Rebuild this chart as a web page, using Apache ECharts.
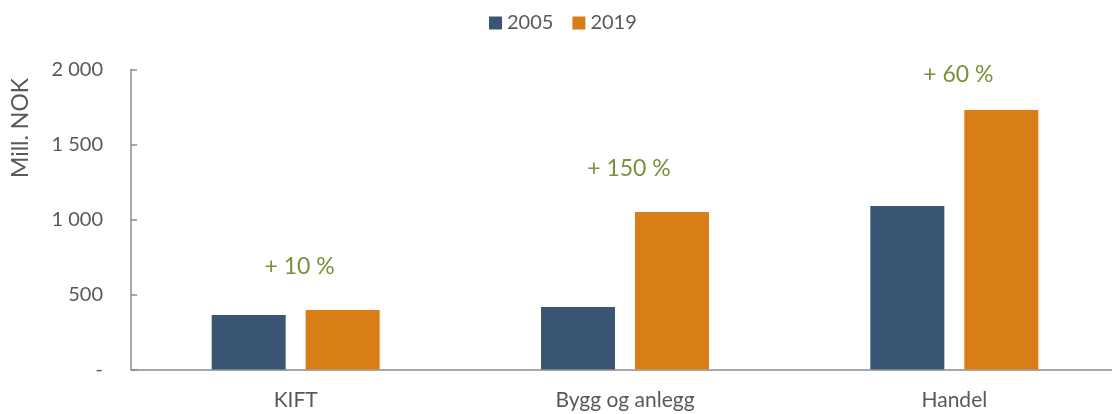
<!DOCTYPE html>
<html>
<head>
<meta charset="utf-8">
<script src="https://cdn.jsdelivr.net/npm/echarts@6/dist/echarts.min.js"></script>
<style>
    html, body { margin: 0; padding: 0; background: #fff; }
    #chart { width: 1112px; height: 414px; }
</style>
</head>
<body>
<div id="chart"></div>
<script>
//数据
const categories = ['KIFT', 'Bygg og anlegg', 'Handel'];
const seriesNames = ['2005', '2019'];
const values2005 = [363, 417, 1090];
const values2019 = [397, 1050, 1730];
const changeLabels = ['+ 10 %', '+ 150 %', '+ 60 %'];
const yTickLabels = ['-', '500', '1 000', '1 500', '2 000'];

const fontFamily = 'Lato';
const textColor = '#595959';
const axisColor = '#8c8c8c';

const chart = echarts.init(document.getElementById('chart'));

const option = {
    animation: false,
    textStyle: { fontFamily: fontFamily },
    legend: {
        data: seriesNames,
        left: 484,
        top: 8,
        icon: 'rect',
        itemWidth: 13,
        itemHeight: 13,
        itemGap: 19,
        textStyle: { fontSize: 20, color: textColor, fontFamily: fontFamily }
    },
    grid: {
        left: 131,
        top: 69.5,
        width: 988,
        bottom: 44.5,
        containLabel: false,
        outerBoundsMode: 'none'
    },
    graphic: [{
        type: 'text',
        x: 21,
        y: 128,
        rotation: Math.PI / 2,
        style: {
            text: 'Mill. NOK',
            fontSize: 23,
            fontFamily: fontFamily,
            fill: textColor,
            align: 'center',
            verticalAlign: 'middle'
        }
    }],
    xAxis: {
        type: 'category',
        data: categories,
        axisLine: { lineStyle: { color: axisColor, width: 1.5 } },
        axisTick: { show: false },
        axisLabel: { fontSize: 21, color: textColor, margin: 20, fontFamily: fontFamily }
    },
    yAxis: {
        type: 'value',
        min: 0,
        max: 2000,
        interval: 500,
        splitLine: { show: false },
        axisLine: { show: true, lineStyle: { color: axisColor, width: 1.5 } },
        axisTick: { show: true, inside: true, length: 6, lineStyle: { color: axisColor, width: 1.5 } },
        axisLabel: {
            fontSize: 20,
            color: textColor,
            margin: 28,
            fontFamily: fontFamily,
            formatter: function (value) {
                return yTickLabels[Math.round(value / 500)];
            }
        }
    },
    series: [{
        name: seriesNames[0],
        type: 'bar',
        data: values2005,
        barWidth: 74,
        barGap: '27%',
        itemStyle: { color: '#3a5674' }
    }, {
        name: seriesNames[1],
        type: 'bar',
        data: values2019.map(function (v, i) {
            //Handel 标签稍低
            return i === 2 ? { value: v, label: { distance: 24 } } : v;
        }),
        barWidth: 74,
        itemStyle: { color: '#d97e17' },
        label: {
            show: true,
            position: 'top',
            distance: 32,
            offset: [-43, 0],
            fontSize: 23,
            fontFamily: fontFamily,
            color: '#76923c',
            formatter: function (p) {
                return changeLabels[p.dataIndex];
            }
        }
    }]
};

chart.setOption(option);
</script>
</body>
</html>
